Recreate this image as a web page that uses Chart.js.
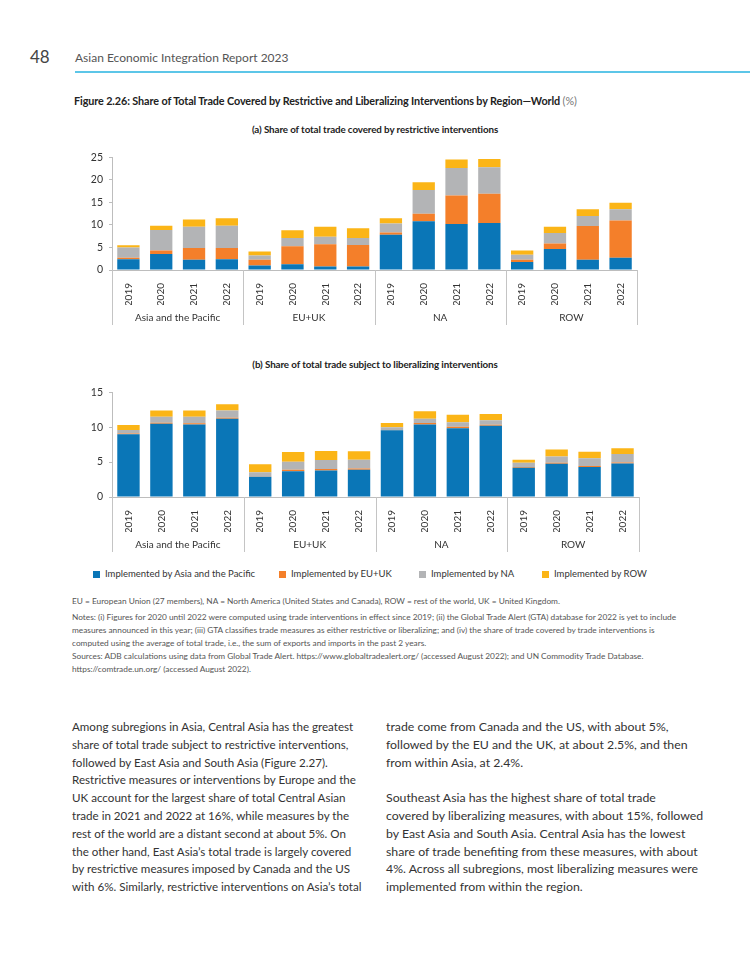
<!DOCTYPE html>
<html>
<head>
<meta charset="utf-8">
<script src="https://cdn.jsdelivr.net/npm/chart.js@4"></script>
<style>
  body { margin: 0; background: #fff; font-family: Lato, "Noto Sans", sans-serif; color: #333; }
  #page { position: relative; width: 750px; height: 971px; overflow: hidden; }
  .abs { position: absolute; white-space: nowrap; }
  .pg { left: 30px; top: 46px; font-size: 17px; color: #444; }
  .run { left: 75px; top: 50px; font-size: 12px; color: #555; }
  .rule { left: 75px; top: 71px; width: 675px; height: 2px; background: #5cc6e8; }
  .title { left: 74px; top: 94px; font-size: 10.8px; font-weight: bold; color: #222; letter-spacing: -0.1px; }
  .title span { font-weight: normal; color: #777; }
  .sub { left: 0; width: 750px; text-align: center; font-size: 9.8px; font-weight: bold; color: #222; letter-spacing: -0.1px; }
  .legend { top: 568px; font-size: 9.5px; color: #333; }
  .legend i { display: inline-block; width: 7px; height: 7px; margin-right: 5px; vertical-align: -0.5px; }
  .note { left: 72px; font-size: 8.3px; color: #555; line-height: 13px; }
  .body { line-height: 17.8px; color: #333; }
  canvas { position: absolute; }
</style>
</head>
<body>
<div id="page">
  <div class="abs pg">48</div>
  <div class="abs run">Asian Economic Integration Report 2023</div>
  <div class="abs rule"></div>
  <div class="abs title">Figure 2.26: Share of Total Trade Covered by Restrictive and Liberalizing Interventions by Region—World <span>(%)</span></div>
  <div class="abs sub" style="top:123px">(a) Share of total trade covered by restrictive interventions</div>
  <div style="position:absolute;left:60px;top:145px;width:600px;height:190px"><canvas id="chartA"></canvas></div>
  <div class="abs sub" style="top:358px">(b) Share of total trade subject to liberalizing interventions</div>
  <div style="position:absolute;left:60px;top:380px;width:600px;height:180px"><canvas id="chartB"></canvas></div>

  <div class="abs legend" style="left:93px"><i style="background:#0a76b7"></i>Implemented by Asia and the Pacific</div>
  <div class="abs legend" style="left:279px"><i style="background:#f47f2a"></i>Implemented by EU+UK</div>
  <div class="abs legend" style="left:419px"><i style="background:#b3b4b6"></i>Implemented by NA</div>
  <div class="abs legend" style="left:542px"><i style="background:#fbb517"></i>Implemented by ROW</div>

  <div class="abs note" style="top:595px">EU = European Union (27 members), NA = North America (United States and Canada), ROW = rest of the world, UK = United Kingdom.</div>
  <div class="abs note" style="top:611px">Notes: (i) Figures for 2020 until 2022 were computed using trade interventions in effect since 2019; (ii) the Global Trade Alert (GTA) database for 2022 is yet to include<br>measures announced in this year; (iii) GTA classifies trade measures as either restrictive or liberalizing; and (iv) the share of trade covered by trade interventions is<br>computed using the average of total trade, i.e., the sum of exports and imports in the past 2 years.</div>
  <div class="abs note" style="top:650px">Sources: ADB calculations using data from Global Trade Alert. https://www.globaltradealert.org/ (accessed August 2022); and UN Commodity Trade Database.<br>https://comtrade.un.org/ (accessed August 2022).</div>

  <div class="abs body" style="left:72px;top:718px;font-size:11.6px">Among subregions in Asia, Central Asia has the greatest<br>share of total trade subject to restrictive interventions,<br>followed by East Asia and South Asia (Figure 2.27).<br>Restrictive measures or interventions by Europe and the<br>UK account for the largest share of total Central Asian<br>trade in 2021 and 2022 at 16%, while measures by the<br>rest of the world are a distant second at about 5%. On<br>the other hand, East Asia’s total trade is largely covered<br>by restrictive measures imposed by Canada and the US<br>with 6%. Similarly, restrictive interventions on Asia’s total</div>
  <div class="abs body" style="left:386px;top:718px;font-size:12.3px">trade come from Canada and the US, with about 5%,<br>followed by the EU and the UK, at about 2.5%, and then<br>from within Asia, at 2.4%.<br><br>Southeast Asia has the highest share of total trade<br>covered by liberalizing measures, with about 15%, followed<br>by East Asia and South Asia. Central Asia has the lowest<br>share of trade benefiting from these measures, with about<br>4%. Across all subregions, most liberalizing measures were<br>implemented from within the region.</div>
</div>

<script>
// categorie
const regions = ['Asia and the Pacific', 'EU+UK', 'NA', 'ROW'];
const years = ['2019', '2020', '2021', '2022'];
const seriesNames = ['Implemented by Asia and the Pacific', 'Implemented by EU+UK', 'Implemented by NA', 'Implemented by ROW'];
const seriesColors = ['#0a76b7', '#f47f2a', '#b3b4b6', '#fbb517'];

// (a) restrictive interventions, % of total trade
const restrictAsia = [2.4, 3.55, 2.3, 2.4, 1.0, 1.3, 0.8, 0.75, 7.8, 10.8, 10.2, 10.4, 1.8, 4.65, 2.3, 2.7];
const restrictEU   = [0.3, 0.75, 2.6, 2.5, 1.3, 3.95, 4.9, 4.8, 0.5, 1.7, 6.3, 6.5, 0.5, 1.25, 7.45, 8.3];
const restrictNA   = [2.3, 4.6, 4.7, 4.9, 0.9, 1.85, 1.7, 1.55, 2.0, 5.25, 6.1, 5.9, 1.1, 2.3, 2.25, 2.5];
const restrictROW  = [0.5, 0.9, 1.6, 1.7, 0.9, 1.7, 2.2, 2.15, 1.2, 1.7, 1.9, 1.8, 0.9, 1.4, 1.5, 1.4];
const ticksA = [0, 5, 10, 15, 20, 25];

// (b) liberalizing interventions, % of total trade
const liberalAsia = [9.0, 10.5, 10.4, 11.2, 2.9, 3.7, 3.8, 3.9, 9.55, 10.4, 9.85, 10.2, 4.2, 4.75, 4.3, 4.8];
const liberalEU   = [0.1, 0.15, 0.15, 0.15, 0.05, 0.2, 0.2, 0.2, 0.05, 0.2, 0.2, 0.15, 0.1, 0.15, 0.15, 0.15];
const liberalNA   = [0.5, 0.85, 0.95, 1.05, 0.6, 1.15, 1.3, 1.25, 0.4, 0.6, 0.65, 0.65, 0.6, 0.9, 1.1, 1.2];
const liberalROW  = [0.7, 0.9, 0.9, 0.9, 1.15, 1.4, 1.3, 1.2, 0.6, 1.1, 1.1, 0.9, 0.45, 1.0, 0.95, 0.85];
const ticksB = [0, 5, 10, 15];

const labels = regions.flatMap(() => years);

// Disegna le etichette dei gruppi e i separatori verticali
const groupPlugin = {
  id: 'groups',
  afterDraw(chart) {
    const { ctx, chartArea, scales: { x } } = chart;
    const slot = (x.right - x.left) / labels.length;
    ctx.save();
    ctx.strokeStyle = '#c4c4c4';
    ctx.lineWidth = 1;
    ctx.font = '10px Lato';
    ctx.fillStyle = '#333';
    ctx.textAlign = 'center';
    ctx.textBaseline = 'middle';
    for (let i = 0; i <= regions.length; i++) {
      const px = Math.round(x.left + i * years.length * slot) + 0.5;
      ctx.beginPath();
      ctx.moveTo(px, chartArea.bottom);
      ctx.lineTo(px, chartArea.bottom + 55);
      ctx.stroke();
    }
    regions.forEach((r, i) => {
      const cx = x.left + (i + 0.5) * years.length * slot;
      ctx.fillText(r, cx, chartArea.bottom + 48);
    });
    ctx.restore();
  }
};

const makeChart = (id, series, tickVals, pad) => {
  const ctx = document.getElementById(id).getContext('2d');
  return new Chart(ctx, {
    type: 'bar',
    data: {
      labels: labels,
      datasets: series.map((d, i) => ({
        label: seriesNames[i],
        data: d,
        backgroundColor: seriesColors[i],
        borderWidth: 0,
        categoryPercentage: 1,
        barPercentage: 0.68
      }))
    },
    options: {
      responsive: true,
      maintainAspectRatio: false,
      animation: false,
      layout: { padding: pad },
      plugins: { legend: { display: false }, tooltip: { enabled: false } },
      scales: {
        x: {
          stacked: true,
          grid: { display: false },
          border: { display: true, color: '#bdbdbd' },
          ticks: { color: '#333', font: { family: 'Lato', size: 10 }, minRotation: 90, maxRotation: 90, padding: 5 },
          afterFit: (s) => { s.height = 35; }
        },
        y: {
          stacked: true,
          min: 0,
          max: tickVals[tickVals.length - 1],
          afterBuildTicks: (s) => { s.ticks = tickVals.map(v => ({ value: v })); },
          grid: { display: true, drawOnChartArea: false, drawTicks: true, tickLength: 3, color: '#bdbdbd' },
          border: { display: true, color: '#bdbdbd' },
          ticks: { color: '#333', font: { family: 'Lato', size: 10.5 }, padding: 6 },
          afterFit: (s) => { s.width = 52; }
        }
      }
    },
    plugins: [groupPlugin]
  });
};

document.addEventListener('DOMContentLoaded', () => {
  makeChart('chartA', [restrictAsia, restrictEU, restrictNA, restrictROW], ticksA, { top: 12, right: 23, bottom: 30, left: 0 });
  makeChart('chartB', [liberalAsia, liberalEU, liberalNA, liberalROW], ticksB, { top: 11, right: 21, bottom: 28, left: 0 });
});
</script>
</body>
</html>
